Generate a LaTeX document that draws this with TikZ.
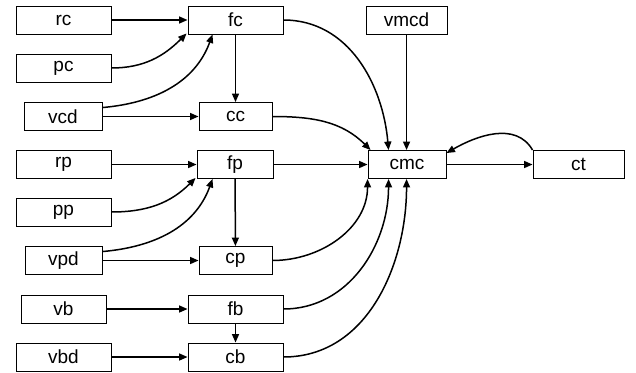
\documentclass[tikz,border=0pt]{standalone}
\usepackage{fontspec}
\setmainfont{Liberation Sans}
\usetikzlibrary{arrows.meta}
\begin{document}
\begin{tikzpicture}[x=1pt,y=-1pt,
  box/.style={draw,line width=0.9pt,rectangle,inner sep=0pt,minimum height=28pt,font=\fontsize{19}{20}\selectfont},
  edge/.style={line width=1.5pt,-{Triangle[length=8.5pt,width=7pt]}}]
\useasboundingbox (0,0) rectangle (636,372);
% left column
\node[box,minimum width=95pt] (rc) at (63.5,20) {rc};
\node[box,minimum width=95pt] (pc) at (63.5,68) {pc};
\node[box,minimum width=78pt] (vcd) at (63,116.5) {vcd};
\node[box,minimum width=95pt] (rp) at (63.5,164.5) {rp};
\node[box,minimum width=95pt] (pp) at (63.5,212) {pp};
\node[box,minimum width=77pt] (vpd) at (63.5,260.5) {vpd};
\node[box,minimum width=85pt] (vb) at (63.5,309) {vb};
\node[box,minimum width=95pt] (vbd) at (63.5,357) {vbd};
% middle column
\node[box,minimum width=95pt] (fc) at (235.5,20) {fc};
\node[box,minimum width=73pt] (cc) at (235.5,116.5) {cc};
\node[box,minimum width=76pt] (fp) at (235,164.5) {fp};
\node[box,minimum width=73pt] (cp) at (235.5,260.5) {cp};
\node[box,minimum width=95pt] (fb) at (235.5,309) {fb};
\node[box,minimum width=95pt] (cb) at (235.5,357) {cb};
% right
\node[box,minimum width=81pt] (vmcd) at (406.5,20) {vmcd};
\node[box,minimum width=78pt] (cmc) at (407,164.5) {cmc};
\node[box,minimum width=91pt] (ct) at (578.5,164.5) {ct};
% coordinates
\coordinate (vcdA) at ([yshift=-5.5pt]vcd.north east);
\coordinate (vpdA) at ([yshift=-5.5pt]vpd.north east);
\coordinate (fcB) at ([xshift=25pt]fc.south west);
\coordinate (fpB) at ([xshift=16pt]fp.south west);
\coordinate (cmcT1) at ([xshift=3pt]cmc.north west);
\coordinate (cmcT2) at ([xshift=21pt]cmc.north west);
\coordinate (cmcT3) at ([xshift=39pt]cmc.north west);
\coordinate (cmcB1) at ([xshift=0pt]cmc.south west);
\coordinate (cmcB2) at ([xshift=21pt]cmc.south west);
\coordinate (cmcB3) at ([xshift=39pt]cmc.south west);
\coordinate (cmcR) at ([yshift=-3pt]cmc.north east);
% edges
\draw[edge] (rc) -- (fc);
\draw[edge] (pc.east) to[out=0,in=-135] ([xshift=-1pt,yshift=1pt]fc.south west);
\draw[edge] (vcdA) to[out=5,in=-110] (fcB);
\draw[edge] (vcd) -- (cc);
\draw[edge] (fc) -- (cc);
\draw[edge] (fc.east) to[out=0,in=95] (cmcT2);
\draw[edge] (vmcd.south -| cmcT3) -- (cmcT3);
\draw[edge] (cc.east) to[out=0,in=135] (cmcT1);
\draw[edge] (rp) -- (fp);
\draw[edge] (pp.east) to[out=0,in=-135] ([xshift=-1pt,yshift=1pt]fp.south west);
\draw[edge] (vpdA) to[out=5,in=-110] (fpB);
\draw[edge] (vpd) -- (cp);
\draw[edge] (fp) -- (cp);
\draw[edge] (fp) -- (cmc);
\draw[edge] (cmc) -- (ct);
\draw[edge] (ct.north west) to[out=120,in=30] (cmcR);
\draw[edge] (cp.east) to[out=0,in=-90] (cmcB1);
\draw[edge] (vb) -- (fb);
\draw[edge] (fb) -- (cb);
\draw[edge] (vbd) -- (cb);
\draw[edge] (fb.east) to[out=0,in=-90] (cmcB2);
\draw[edge] (cb.east) to[out=0,in=-90] (cmcB3);
\end{tikzpicture}
\end{document}
